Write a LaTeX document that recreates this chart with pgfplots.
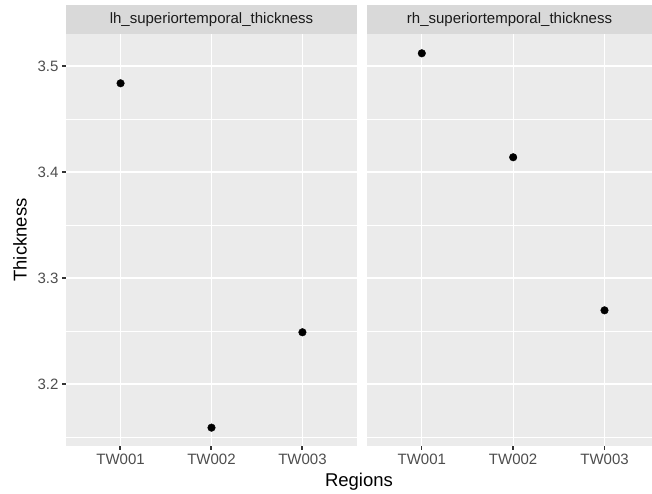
\documentclass[border=0pt]{standalone}
\usepackage{pgfplots}
\pgfplotsset{compat=1.18}
\usepackage{fontspec}
\setmainfont{Liberation Sans}
\definecolor{panelbg}{HTML}{EBEBEB}
\definecolor{stripbg}{HTML}{D9D9D9}
\definecolor{ticklab}{HTML}{4D4D4D}
\definecolor{tickcol}{HTML}{333333}
\definecolor{striptxt}{HTML}{1A1A1A}
\tikzset{tk/.style={draw=tickcol, line width=1.1pt}}
\pgfplotsset{
  facet/.style={
    scale only axis, height=412pt,
    ymin=3.1415, ymax=3.5302,
    axis background/.style={fill=panelbg},
    axis lines*=left,
    axis line style={draw opacity=0},
    clip=false,
    xtick={1,2,3}, xticklabels={TW001,TW002,TW003},
    ytick={3.2,3.3,3.4,3.5},
    minor ytick={3.15,3.25,3.35,3.45},
    xmajorgrids, ymajorgrids, yminorgrids,
    major grid style={white, line width=1.2pt},
    minor grid style={white, line width=0.6pt},
    tick align=outside, major tick length=4pt, minor tick length=0pt,
    tick style={draw=tickcol, line width=1.1pt},
    ticklabel style={font=\fontsize{15}{18}\selectfont, text=ticklab},
    /pgf/number format/assume math mode=true,
    yticklabel style={/pgf/number format/fixed, /pgf/number format/precision=1, /pgf/number format/fixed zerofill},
  }
}
\begin{document}
\begin{tikzpicture}
\useasboundingbox (0,0) rectangle (652pt,494pt);
\begin{axis}[facet, name=p1, at={(66pt,48pt)}, anchor=south west, width=291pt, xmin=0.4, xmax=3.6]
\addplot[only marks, mark=*, mark size=3.8pt, black] coordinates {(1,3.4837) (2,3.1588) (3,3.2488)};
\end{axis}
\begin{axis}[facet, name=p2, at={(367pt,48pt)}, anchor=south west, width=285pt, xmin=0.4, xmax=3.52,
  yticklabels={}, ytick style={draw=none}]
\addplot[only marks, mark=*, mark size=3.8pt, black] coordinates {(1,3.5120) (2,3.4139) (3,3.2695)};
\end{axis}
\foreach \yy in {66,172,278,384}{
  \draw[tk] (62pt,{494pt-\yy pt}) -- (66pt,{494pt-\yy pt});
}
\foreach \xx in {120,211,302,421.7,513,604.3}{
  \draw[tk] (\xx pt,44pt) -- (\xx pt,48pt);
}
\fill[stripbg] (p1.north west) rectangle ([yshift=29pt]p1.north east);
\fill[stripbg] (p2.north west) rectangle ([yshift=29pt]p2.north east);
\node[font=\fontsize{15}{18}\selectfont, text=striptxt] at ([yshift=14.5pt]p1.north) {lh\_superiortemporal\_thickness};
\node[font=\fontsize{15}{18}\selectfont, text=striptxt] at ([yshift=14.5pt]p2.north) {rh\_superiortemporal\_thickness};
\node[rotate=90, font=\fontsize{18.5}{22}\selectfont] at (20pt,254pt) {Thickness};
\node[font=\fontsize{18.5}{22}\selectfont] at (359pt,12pt) {Regions};
\end{tikzpicture}
\end{document}
